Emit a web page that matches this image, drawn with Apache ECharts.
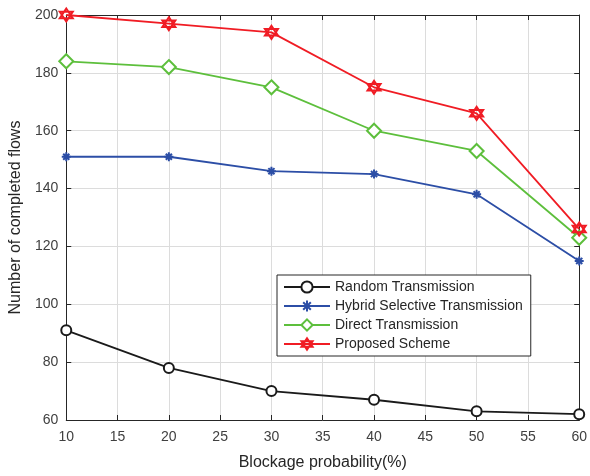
<!DOCTYPE html>
<html><head><meta charset="utf-8">
<script src="https://cdn.jsdelivr.net/npm/echarts@6/dist/echarts.min.js"></script>
<style>html,body{margin:0;padding:0;background:#fff}#c{width:590px;height:476px}</style>
</head><body><div id="c"></div>
<script>
const xValues = [10, 20, 30, 40, 50, 60];
const randomTx = [91, 78, 70, 67, 63, 62];
const hybridTx = [151, 151, 146, 145, 138, 115];
const directTx = [184, 182, 175, 160, 153, 123];
const proposed = [200, 197, 194, 175, 166, 126];
const seriesNames = ['Random Transmission', 'Hybrid Selective Transmission', 'Direct Transmission', 'Proposed Scheme'];

const pair = arr => arr.map((v, i) => [xValues[i], v]);
const font = 'Liberation Sans, Arial, Helvetica, sans-serif';
const star = 'path://M5,0L9.33,7.5L0.67,7.5ZM5,10L0.67,2.5L9.33,2.5Z';
const aster = 'path://M0,5L10,5M5,0L5,10M1.6,1.6L8.4,8.4M8.4,1.6L1.6,8.4';

const chart = echarts.init(document.getElementById('c'));
const axisCommon = {
  axisLine: {show: true, lineStyle: {color: '#262626', width: 1}},
  axisTick: {show: true, inside: true, length: 5, lineStyle: {color: '#262626'}},
};
chart.setOption({
  animation: false,
  textStyle: {fontFamily: font},
  grid: {left: 63, right: 8, top: 15, bottom: 53, containLabel: false},
  xAxis: [
    Object.assign({type: 'value', min: 10, max: 60, interval: 5,
      name: 'Blockage probability(%)', nameLocation: 'middle', nameGap: 35,
      nameTextStyle: {fontSize: 16, color: '#262626', fontFamily: font},
      axisLabel: {fontSize: 14, color: '#404040', margin: 10, fontFamily: font},
      splitLine: {show: true, lineStyle: {color: '#dcdcdc', width: 1}}}, axisCommon),
    Object.assign({type: 'value', min: 10, max: 60, interval: 5, position: 'top',
      axisLabel: {show: false}, splitLine: {show: false}}, axisCommon)
  ],
  yAxis: [
    Object.assign({type: 'value', min: 60, max: 200, interval: 20,
      name: 'Number of completed flows', nameLocation: 'middle', nameGap: 41,
      nameTextStyle: {fontSize: 16, color: '#262626', fontFamily: font},
      axisLabel: {fontSize: 14, color: '#404040', margin: 8, fontFamily: font},
      splitLine: {show: true, lineStyle: {color: '#dcdcdc', width: 1}}}, axisCommon),
    Object.assign({type: 'value', min: 60, max: 200, interval: 20, position: 'right',
      axisLabel: {show: false}, splitLine: {show: false}}, axisCommon)
  ],
  legend: {
    orient: 'vertical', left: 277, top: 275,
    backgroundColor: '#fff', borderColor: '#262626', borderWidth: 1,
    padding: [5, 8, 5, 6], itemGap: 5, itemWidth: 46, itemHeight: 14,
    textStyle: {fontSize: 14, color: '#262626', fontFamily: font},
    data: seriesNames
  },
  series: [
    {name: seriesNames[0], type: 'line', data: pair(randomTx), symbol: 'emptyCircle', symbolSize: 10,
     lineStyle: {color: '#1a1a1a', width: 1.8}, itemStyle: {color: '#1a1a1a', borderColor: '#1a1a1a', borderWidth: 2}},
    {name: seriesNames[1], type: 'line', data: pair(hybridTx), symbol: aster, symbolSize: 9,
     lineStyle: {color: '#2c4ea6', width: 1.8}, itemStyle: {color: '#2c4ea6', borderColor: '#2c4ea6', borderWidth: 2}},
    {name: seriesNames[2], type: 'line', data: pair(directTx), symbol: 'emptyDiamond', symbolSize: 14,
     lineStyle: {color: '#5dbf3c', width: 1.8}, itemStyle: {color: '#5dbf3c', borderColor: '#5dbf3c', borderWidth: 2}},
    {name: seriesNames[3], type: 'line', data: pair(proposed), symbol: star, symbolSize: 13,
     lineStyle: {color: '#f01c24', width: 1.8}, itemStyle: {color: 'rgba(255,255,255,0)', borderColor: '#f01c24', borderWidth: 2}}
  ]
});
</script></body></html>
